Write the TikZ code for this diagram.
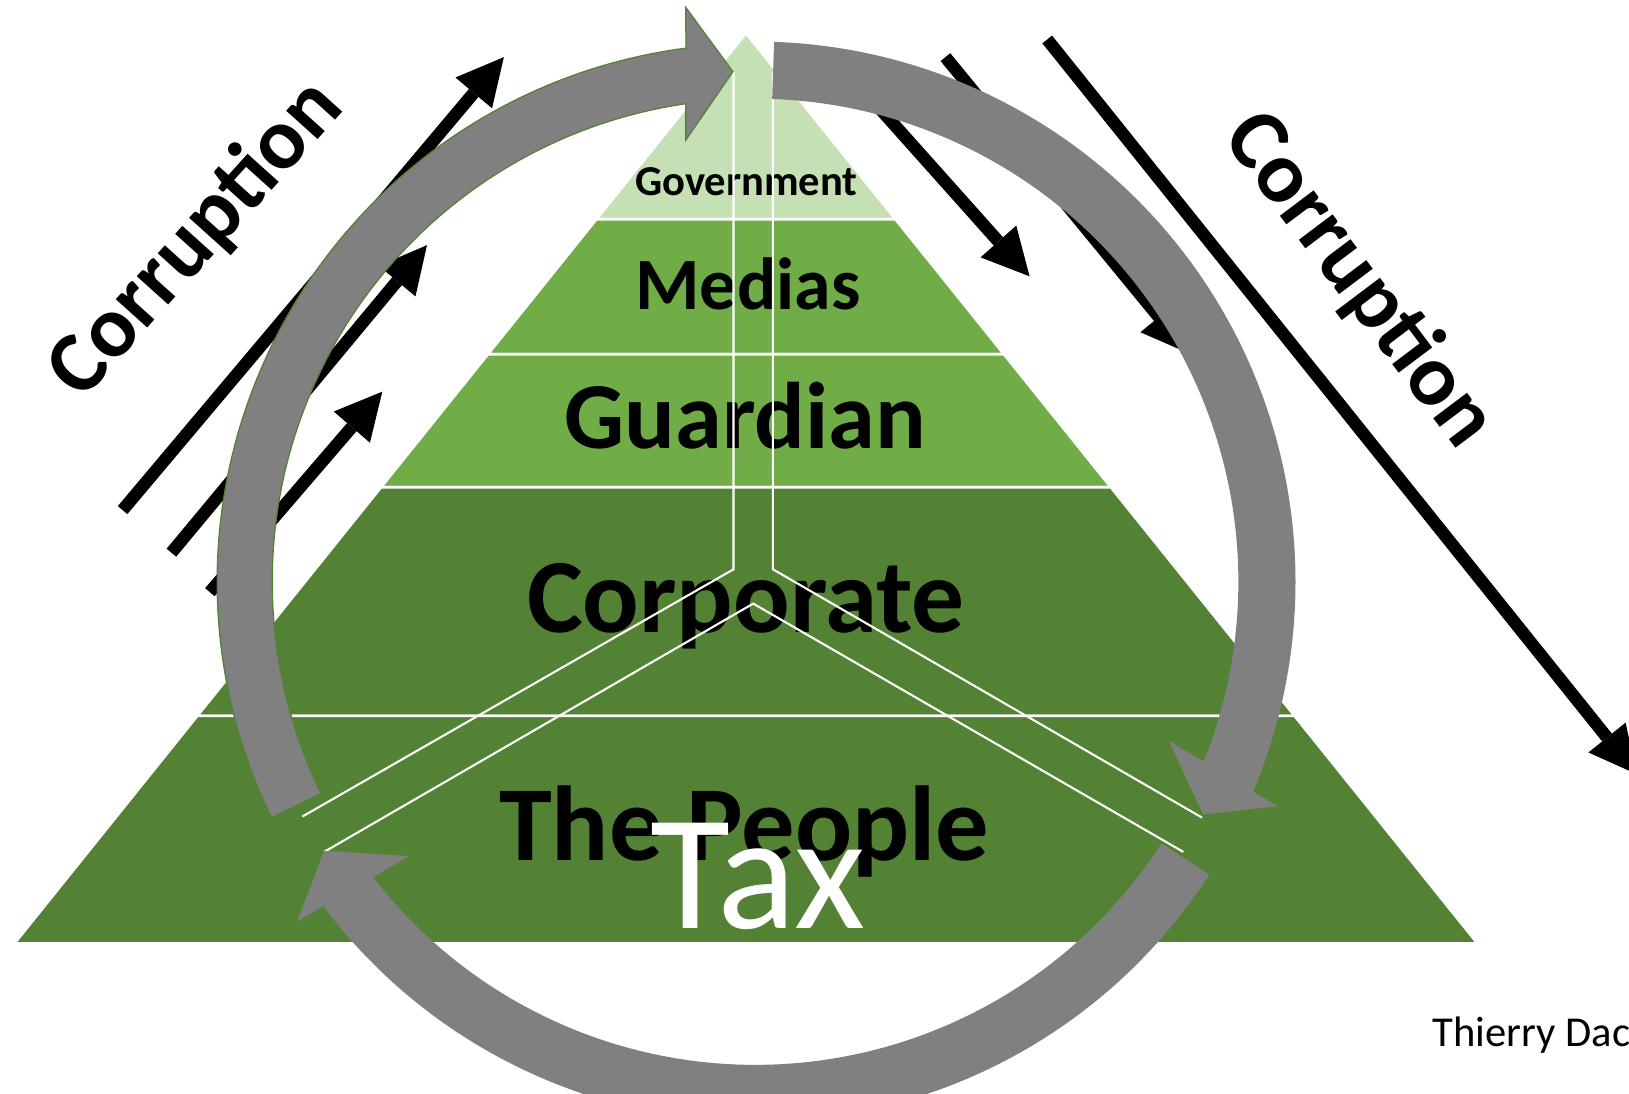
\documentclass[tikz,border=0pt]{standalone}
\usepackage{fontspec}
\setmainfont{Carlito}
\usetikzlibrary{calc}
\definecolor{pyrlight}{HTML}{C5E0B4}
\definecolor{pyrmid}{HTML}{70AD47}
\definecolor{pyrdark}{HTML}{548235}
\definecolor{arcgray}{HTML}{808080}
\newcommand{\blkarrow}[3]{%
  \coordinate (#1t) at #2;
  \coordinate (#1h) at #3;
  \coordinate (#1m) at ($(#1h)!45pt!(#1t)$);
  \draw[corrline] (#1t) -- (#1m);
  \fill[black] (#1h) -- ($(#1m)!23pt!90:(#1h)$) -- ($(#1m)!23pt!-90:(#1h)$) -- cycle;
}
\begin{document}
\begin{tikzpicture}[x=1pt,y=1pt,
  layer/.style={draw=white,line width=2.5pt},
  ylines/.style={draw=white,line width=2pt},
  corrline/.style={line width=12pt,black},
  grayarc/.style={fill=arcgray},
  lbl/.style={inner sep=0pt,anchor=base},
]
\useasboundingbox (0,0) rectangle (1568,1053);
\coordinate (C) at (727,493);

% pyramid layers
\path[fill=pyrlight,layer] (718,1021) -- (861.85,842) -- (574.15,842) -- cycle;
\path[fill=pyrmid,layer] (574.15,842) -- (861.85,842) -- (966.33,712) -- (469.67,712) -- cycle;
\path[fill=pyrmid,layer] (469.67,712) -- (966.33,712) -- (1069.2,584) -- (366.8,584) -- cycle;
\path[fill=pyrdark,layer] (366.8,584) -- (1069.2,584) -- (1246,364) -- (190,364) -- cycle;
\path[fill=pyrdark,layer] (190,364) -- (1246,364) -- (1422,145) -- (14,145) -- cycle;

% labels
\node[lbl,font=\bfseries\fontsize{41}{45}\selectfont] (gov) at (718.5,865) {Government};
\node[lbl,font=\bfseries\fontsize{71}{75}\selectfont] (med) at (720,755) {Medias};
\node[lbl,font=\bfseries\fontsize{91}{95}\selectfont] (gua) at (717.5,621) {Guardian};
\node[lbl,font=\bfseries\fontsize{101.5}{106}\selectfont] (cor) at (718,444) {Corporate};
\node[lbl,font=\bfseries\fontsize{102.5}{108}\selectfont] (peo) at (716.5,225) {The People};

% white Y lines
\draw[ylines] (706,984) -- (706,505) -- (291,267);
\draw[ylines] (744,984) -- (744,505) -- (1157,266);
\draw[ylines] (312,233) -- (725,472) -- (1139,233);

% corruption arrows
\blkarrow{a1}{(118,562)}{(485,998)}
\blkarrow{a2}{(165,521)}{(411,817)}
\blkarrow{a3}{(202,483)}{(368,676)}
\blkarrow{b1}{(825,973)}{(991,787)}
\blkarrow{b2}{(910,998)}{(1144,713)}
\blkarrow{b3}{(1008,1015)}{(1575,308)}

% gray circular arrows
\path[grayarc,draw=pyrdark,line width=1.2pt] ($(C)+(206:518pt)$) arc[start angle=206,end angle=97.4,radius=518pt] -- (660,1046) -- (705.5,984) -- (660,918) -- ($(C)+(98.28:465pt)$) arc[start angle=98.28,end angle=206,radius=465pt] -- cycle;
\path[grayarc] ($(C)+(88:520pt)$) arc[start angle=88,end angle=-22.84,radius=520pt] -- (1230,277) -- (1158,269) -- (1125,340) -- ($(C)+(-21.86:465pt)$) arc[start angle=-21.86,end angle=88,radius=465pt] -- cycle;
\path[grayarc] ($(C)+(-32.8:520pt)$) arc[start angle=-32.8,end angle=-143.1,radius=520pt] -- (286,166) -- (312,234) -- (394,229) -- ($(C)+(-142.3:465pt)$) arc[start angle=-142.3,end angle=-32.8,radius=465pt] -- cycle;

% texts
\node[inner sep=0pt,rotate=48,font=\bfseries\fontsize{84}{90}\selectfont] (corrL) at (189,823) {Corruption};
\node[inner sep=0pt,rotate=-53,font=\bfseries\fontsize{84}{90}\selectfont] (corrR) at (1308,783) {Corruption};
\node[lbl,text=white,font=\fontsize{158}{164}\selectfont] (tax) at (729.5,159) {Tax};
\node[inner sep=0pt,anchor=base west,font=\fontsize{41}{45}\selectfont] (author) at (1379,46) {Thierry Dac};
\end{tikzpicture}
\end{document}
